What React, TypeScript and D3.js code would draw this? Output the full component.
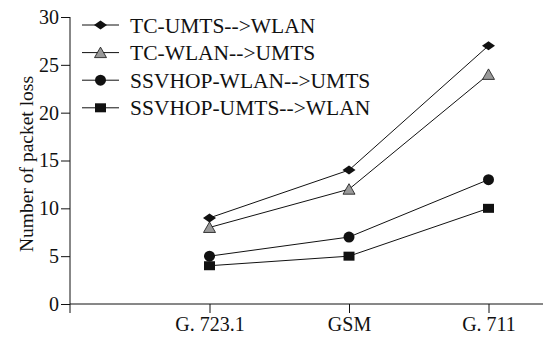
import React, { useEffect, useRef } from 'react';
import * as d3 from 'd3';

const categories = ['G. 723.1', 'GSM', 'G. 711'];
const seriesNames = ['TC-UMTS-->WLAN', 'TC-WLAN-->UMTS', 'SSVHOP-WLAN-->UMTS', 'SSVHOP-UMTS-->WLAN'];
const tcUmtsWlan = [9, 14, 27];
const tcWlanUmts = [8, 12, 24];
const ssvWlanUmts = [5, 7, 13];
const ssvUmtsWlan = [4, 5, 10];
const yTicks = [0, 5, 10, 15, 20, 25, 30];
const markerTypes = ['diamond', 'triangle', 'circle', 'square'];

const W = 544;
const H = 339;
const INK = '#111';
const FONT = 'Liberation Serif, serif';

const drawMarker = (g: d3.Selection<SVGGElement, unknown, null, undefined>, type: string, x: number, y: number) => {
  if (type === 'diamond') {
    g.append('path').attr('d', `M ${x - 6.5} ${y} L ${x} ${y - 4.5} L ${x + 6.5} ${y} L ${x} ${y + 4.5} Z`).attr('fill', INK);
  } else if (type === 'triangle') {
    g.append('path').attr('d', `M ${x - 6} ${y + 5} L ${x} ${y - 5.5} L ${x + 6} ${y + 5} Z`)
      .attr('fill', '#999').attr('stroke', INK).attr('stroke-width', 0.8);
  } else if (type === 'circle') {
    g.append('circle').attr('cx', x).attr('cy', y).attr('r', 5.5).attr('fill', INK);
  } else {
    g.append('rect').attr('x', x - 5.5).attr('y', y - 4.5).attr('width', 11).attr('height', 9).attr('fill', INK);
  }
};

const App: React.FC = () => {
  const svgRef = useRef<SVGSVGElement>(null);

  useEffect(() => {
    if (!svgRef.current) return;
    const svg = d3.select(svgRef.current);
    svg.selectAll('*').remove();

    const x0 = 70;
    const xScale = d3.scalePoint<string>().domain(categories).range([x0, 628]).padding(1);
    const yScale = d3.scaleLinear().domain([0, 30]).range([304, 17]);

    // y axis
    const yAxis = d3.axisLeft(yScale).tickValues(yTicks).tickSize(9).tickPadding(2).tickSizeOuter(0);
    const gy = svg.append('g').attr('transform', `translate(${x0},0)`).call(yAxis);
    gy.attr('font-family', FONT).attr('font-size', 20);
    gy.select('.domain').remove();
    gy.selectAll('.tick line').attr('stroke', INK);
    gy.selectAll('.tick text').attr('fill', INK);
    svg.append('line').attr('x1', x0).attr('x2', x0).attr('y1', 17).attr('y2', 313).attr('stroke', INK);

    // x axis
    const xAxis = d3.axisBottom(xScale).tickSize(9).tickPadding(4).tickSizeOuter(0);
    const gx = svg.append('g').attr('transform', `translate(0,${yScale(0)})`).call(xAxis);
    gx.attr('font-family', FONT).attr('font-size', 20);
    gx.select('.domain').remove();
    gx.selectAll('.tick line').attr('stroke', INK);
    gx.selectAll('.tick text').attr('fill', INK);
    svg.append('line').attr('x1', x0).attr('x2', 543).attr('y1', yScale(0)).attr('y2', yScale(0)).attr('stroke', INK);

    // y title
    svg.append('text')
      .attr('transform', `translate(33,164) rotate(-90)`)
      .attr('text-anchor', 'middle')
      .attr('font-family', FONT).attr('font-size', 19.5).attr('fill', INK)
      .text('Number of packet loss');

    // series
    const allSeries = [tcUmtsWlan, tcWlanUmts, ssvWlanUmts, ssvUmtsWlan];
    const line = d3.line<number>().x((_, i) => xScale(categories[i]) as number).y((d) => yScale(d));
    allSeries.forEach((vals, si) => {
      svg.append('path').attr('d', line(vals)).attr('fill', 'none').attr('stroke', INK).attr('stroke-width', 1);
      const mg = svg.append('g');
      vals.forEach((v, i) => drawMarker(mg, markerTypes[si], xScale(categories[i]) as number, yScale(v)));
    });

    // legend
    const leg = svg.append('g');
    seriesNames.forEach((name, i) => {
      const ly = 25 + i * 27.6;
      leg.append('line').attr('x1', 82).attr('x2', 119).attr('y1', ly).attr('y2', ly).attr('stroke', INK);
      drawMarker(leg, markerTypes[i], 100.5, ly);
      leg.append('text').attr('x', 130).attr('y', ly).attr('dy', '0.35em')
        .attr('font-family', FONT).attr('font-size', 21.5).attr('fill', INK).text(name);
    });
  }, []);

  return <svg ref={svgRef} width={W} height={H} style={{ display: 'block', position: 'absolute', left: 0, top: 0, background: '#fff' }} />;
};

export default App;
